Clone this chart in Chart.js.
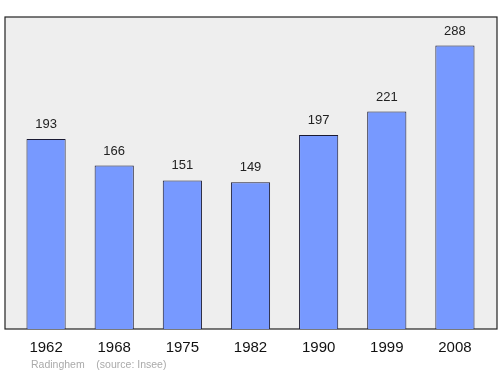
<!DOCTYPE html>
<html lang="fr">
<head>
<meta charset="UTF-8">
<title>Population Radinghem</title>
<style>
    html, body { margin: 0; padding: 0; background: #fff; }
    .graphe { position: relative; width: 500px; height: 374px; }
    .source { position: absolute; left: 31px; top: 358px; font-family: "Liberation Sans", Arial, sans-serif; font-size: 10.5px; color: #aaa; white-space: pre; }
</style>
</head>
<body>
<div class="graphe">
    <canvas id="myChart" width="500" height="374"></canvas>
    <div class="source">Radinghem    (source: Insee)</div>
</div>

<script src="https://cdn.jsdelivr.net/npm/chart.js"></script>
<script>
const annees = ['1962', '1968', '1975', '1982', '1990', '1999', '2008'];
const habitants = [193, 166, 151, 149, 197, 221, 288];
const maxAxe = 317;

// fond gris et cadre autour de la zone du graphique
const cadre = {
    id: 'cadre',
    beforeDraw(chart) {
        const { ctx, chartArea } = chart;
        const x0 = chartArea.left - 7, x1 = chartArea.right + 8;
        ctx.save();
        ctx.fillStyle = '#eeeeee';
        ctx.fillRect(x0, chartArea.top, x1 - x0, chartArea.bottom - chartArea.top);
        ctx.strokeStyle = '#222';
        ctx.lineWidth = 1.2;
        ctx.strokeRect(x0, chartArea.top, x1 - x0, chartArea.bottom - chartArea.top);
        ctx.restore();
    }
};

// valeurs au-dessus des barres
const etiquettes = {
    id: 'etiquettes',
    afterDatasetsDraw(chart) {
        const { ctx } = chart;
        const meta = chart.getDatasetMeta(0);
        ctx.save();
        ctx.font = '13px "Liberation Sans", Arial, sans-serif';
        ctx.fillStyle = '#222';
        ctx.textAlign = 'center';
        ctx.textBaseline = 'bottom';
        meta.data.forEach((barre, i) => {
            ctx.fillText(habitants[i], barre.x, barre.y - 8);
        });
        ctx.restore();
    }
};

new Chart(document.getElementById('myChart'), {
    type: 'bar',
    data: {
        labels: annees,
        datasets: [{
            data: habitants,
            backgroundColor: '#7799ff',
            borderColor: '#1a1a33',
            borderWidth: 1,
            barPercentage: 0.575,
            categoryPercentage: 1
        }]
    },
    options: {
        responsive: false,
        animation: false,
        layout: { padding: { left: 12, right: 11, top: 17, bottom: 7 } },
        plugins: { legend: { display: false }, tooltip: { enabled: false } },
        scales: {
            x: {
                grid: { display: false, drawTicks: false },
                border: { display: false },
                ticks: { color: '#111', font: { family: '"Liberation Sans", Arial, sans-serif', size: 15 }, padding: 10 }
            },
            y: {
                min: 0,
                max: maxAxe,
                display: false
            }
        }
    },
    plugins: [cadre, etiquettes]
});
</script>
</body>
</html>
